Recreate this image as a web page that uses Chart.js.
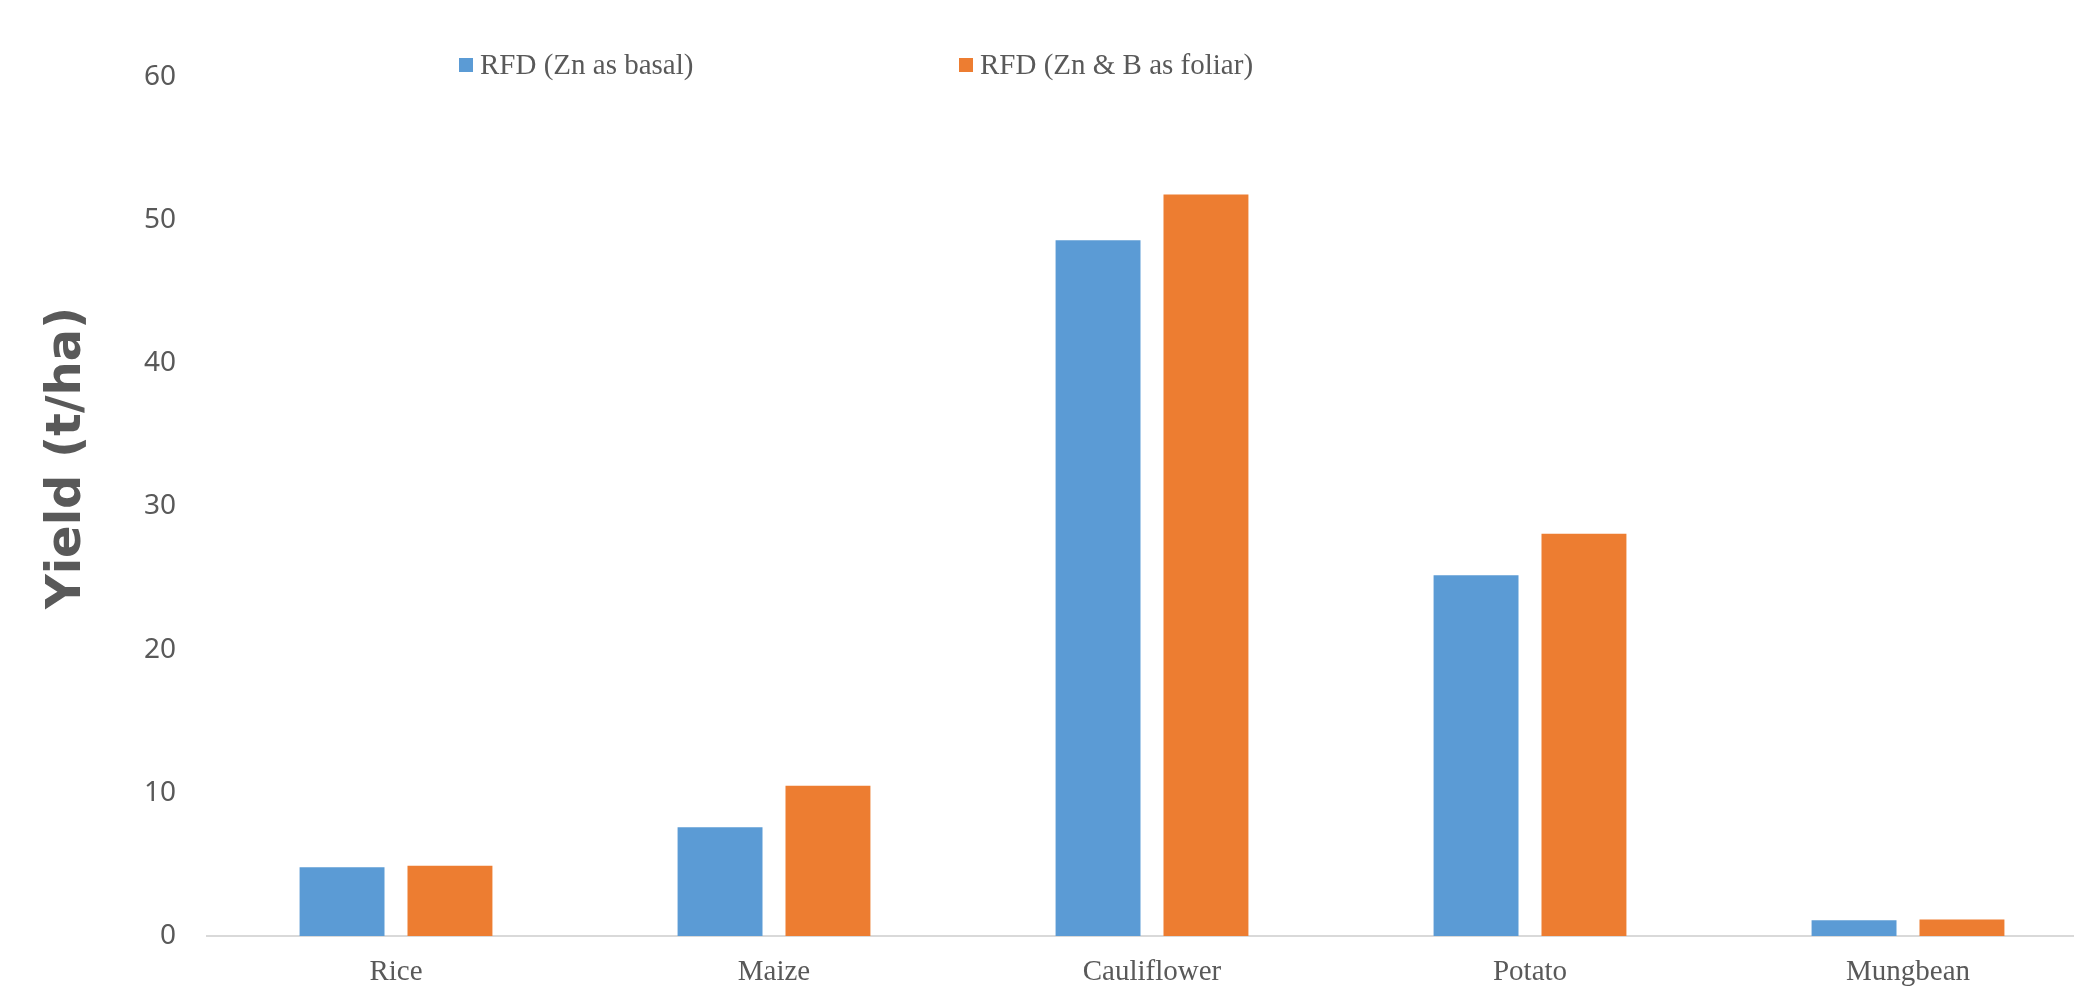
<!DOCTYPE html>
<html>
<head>
<meta charset="utf-8">
<script src="https://cdn.jsdelivr.net/npm/chart.js@4.4.1/dist/chart.umd.min.js"></script>
<style>
  html, body { margin: 0; padding: 0; background: #fff; overflow: hidden; }
</style>
</head>
<body>
<canvas id="myChart" width="2100" height="988"></canvas>
<script>
const crops = ["Rice", "Maize", "Cauliflower", "Potato", "Mungbean"];
const znBasal = [4.8, 7.6, 48.6, 25.2, 1.1];
const znBFoliar = [4.9, 10.5, 51.8, 28.1, 1.15];
const yTicks = [0, 10, 20, 30, 40, 50, 60];
const seriesNames = ["RFD (Zn as basal)", "RFD (Zn & B as foliar)"];
const yTitle = "Yield (t/ha)";

const textColor = "#595959";

// legend and rotated axis title, placed like the Excel original
const extras = {
  id: "extras",
  afterDraw(chart) {
    const ctx = chart.ctx;
    const legendX = [459, 959];
    ctx.save();
    ctx.font = "29px 'Liberation Serif'";
    ctx.textBaseline = "alphabetic";
    chart.data.datasets.forEach((ds, i) => {
      ctx.fillStyle = ds.backgroundColor;
      ctx.fillRect(legendX[i], 58, 14, 14);
      ctx.fillStyle = textColor;
      ctx.fillText(ds.label, legendX[i] + 21, 74);
    });
    ctx.translate(80, 458);
    ctx.rotate(-Math.PI / 2);
    ctx.font = "bold 48px 'DejaVu Sans'";
    ctx.textAlign = "center";
    ctx.fillStyle = textColor;
    ctx.fillText(yTitle, 0, 0);
    ctx.restore();
  },
};

new Chart(document.getElementById("myChart"), {
  type: "bar",
  data: {
    labels: crops,
    datasets: [
      { label: seriesNames[0], data: znBasal, backgroundColor: "#5B9BD5" },
      { label: seriesNames[1], data: znBFoliar, backgroundColor: "#ED7D31" },
    ],
  },
  options: {
    responsive: false,
    animation: false,
    devicePixelRatio: 1,
    layout: { padding: { top: 77, right: 3, bottom: 2, left: 0 } },
    categoryPercentage: 0.571,
    barPercentage: 0.787,
    plugins: {
      legend: { display: false },
      tooltip: { enabled: false },
    },
    scales: {
      x: {
        grid: { display: false, drawTicks: false },
        border: { color: "#D9D9D9", width: 2 },
        afterFit(scale) { scale.height = 50; },
        ticks: {
          padding: 19,
          color: textColor,
          font: { family: "'Liberation Serif'", size: 29 },
        },
      },
      y: {
        min: yTicks[0],
        max: yTicks[yTicks.length - 1],
        grid: { display: false, drawTicks: false },
        border: { display: false },
        afterFit(scale) { scale.width = 207; },
        ticks: {
          stepSize: yTicks[1] - yTicks[0],
          padding: 31,
          color: textColor,
          font: { family: "'Noto Sans'", size: 28 },
        },
      },
    },
  },
  plugins: [extras],
});
</script>
</body>
</html>
